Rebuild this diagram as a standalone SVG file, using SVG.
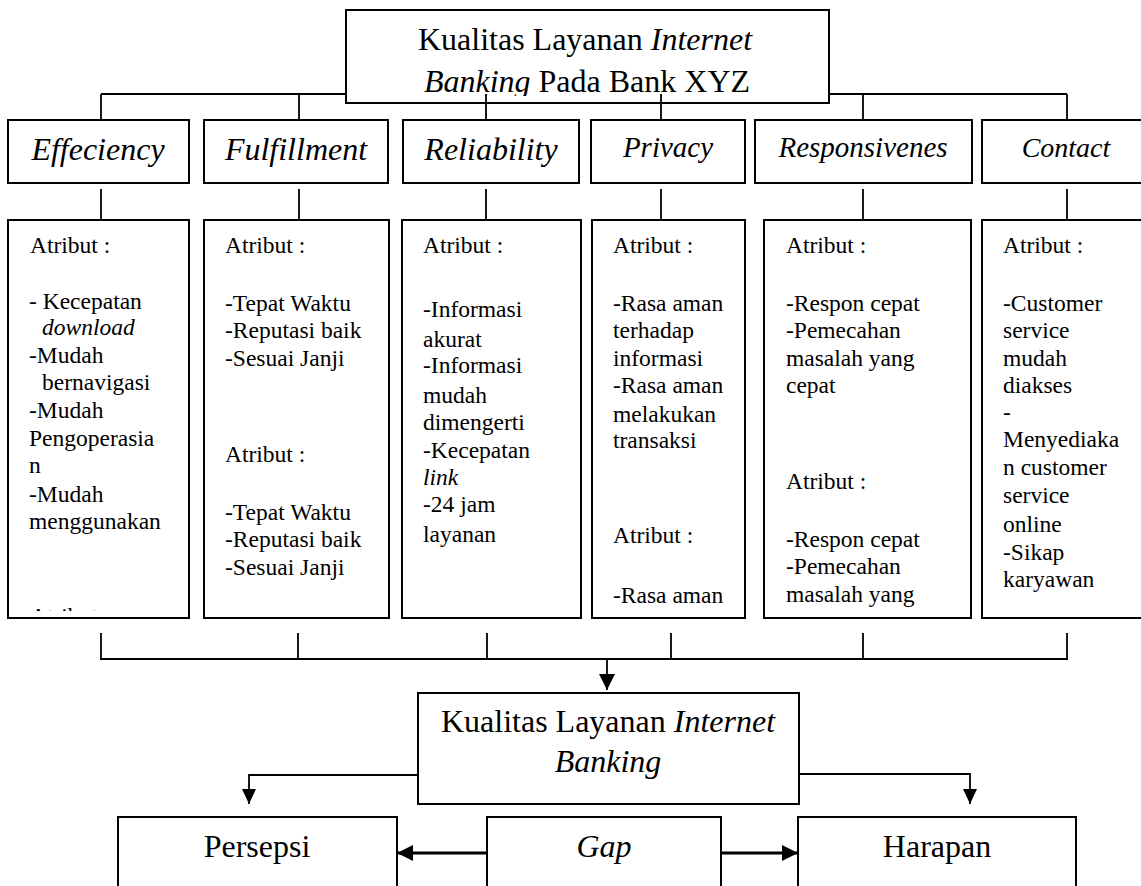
<svg xmlns="http://www.w3.org/2000/svg" width="1141" height="886" viewBox="0 0 1141 886">
<style>
  .box { fill: #fff; stroke: #000; stroke-width: 2; }
  .ln { fill: none; stroke: #000; stroke-width: 1.8; }
  .thick { fill: none; stroke: #000; stroke-width: 3; }
  text { font-family: "Liberation Serif", "Times New Roman", serif; fill: #000; }
  .big { font-size: 32px; }
  .cat { font-size: 32px; font-style: italic; text-anchor: middle; }
  .cat2 { font-size: 29px; font-style: italic; text-anchor: middle; }
  .att { font-size: 23.5px; }
  .it { font-style: italic; }
  .mid { text-anchor: middle; }
</style>
<defs>
  <marker id="arr" markerUnits="userSpaceOnUse" markerWidth="16" markerHeight="16" refX="15" refY="7" orient="auto">
    <path d="M0,0 L15,7 L0,14 z" fill="#000"/>
  </marker>
  <marker id="arrB" markerUnits="userSpaceOnUse" markerWidth="18" markerHeight="18" refX="16" refY="8" orient="auto">
    <path d="M0,0 L16,8 L0,16 z" fill="#000"/>
  </marker>
  <clipPath id="clipTop"><rect x="346" y="10" width="484" height="86"/></clipPath>
  <clipPath id="clipA1"><rect x="8" y="220" width="181" height="391"/></clipPath>
</defs>

<g id="connectors">
  <line class="ln" x1="101" y1="94" x2="1067" y2="94"/>
  <line class="ln" x1="101" y1="94" x2="101" y2="120"/>
  <line class="ln" x1="299" y1="94" x2="299" y2="120"/>
  <line class="ln" x1="863" y1="94" x2="863" y2="120"/>
  <line class="ln" x1="1067" y1="94" x2="1067" y2="120"/>
  <line class="ln" x1="101" y1="189" x2="101" y2="220"/>
  <line class="ln" x1="299" y1="189" x2="299" y2="220"/>
  <line class="ln" x1="486" y1="189" x2="486" y2="220"/>
  <line class="ln" x1="661" y1="189" x2="661" y2="220"/>
  <line class="ln" x1="863" y1="189" x2="863" y2="220"/>
  <line class="ln" x1="1067" y1="189" x2="1067" y2="220"/>
  <line class="ln" x1="101" y1="633" x2="101" y2="659"/>
  <line class="ln" x1="298" y1="633" x2="298" y2="659"/>
  <line class="ln" x1="487" y1="633" x2="487" y2="659"/>
  <line class="ln" x1="671" y1="633" x2="671" y2="659"/>
  <line class="ln" x1="863" y1="633" x2="863" y2="659"/>
  <line class="ln" x1="1067" y1="633" x2="1067" y2="659"/>
  <line class="ln" x1="100" y1="659" x2="1068" y2="659"/>
  <path class="ln" d="M607,659 L607,690" marker-end="url(#arrB)"/>
  <path class="ln" d="M418,775 L249,775 L249,804" marker-end="url(#arr)"/>
  <path class="ln" d="M799,774 L970,774 L970,804" marker-end="url(#arr)"/>
  <path class="thick" d="M487,853 L397,853" marker-end="url(#arrB)"/>
  <path class="thick" d="M721,853 L798,853" marker-end="url(#arrB)"/>
</g>

<g id="top">
  <rect class="box" x="346" y="10" width="483" height="93"/>
  <g clip-path="url(#clipTop)">
    <text class="big mid" x="585" y="50">Kualitas Layanan <tspan class="it">Internet</tspan></text>
    <text class="big mid" x="587" y="92"><tspan class="it">Banking</tspan> Pada Bank XYZ</text>
  </g>
  <line class="ln" x1="486" y1="94" x2="486" y2="120"/>
  <line class="ln" x1="661" y1="94" x2="661" y2="120"/>
</g>

<g id="cat-effeciency">
  <rect class="box" x="8" y="120" width="181" height="63"/>
  <text class="cat" x="98" y="160">Effeciency</text>
</g>
<g id="cat-fulfillment">
  <rect class="box" x="204" y="120" width="184" height="63"/>
  <text class="cat" x="296" y="160">Fulfillment</text>
</g>
<g id="cat-reliability">
  <rect class="box" x="403" y="120" width="176" height="63"/>
  <text class="cat" x="491" y="160">Reliability</text>
</g>
<g id="cat-privacy">
  <rect class="box" x="591" y="120" width="154" height="63"/>
  <text class="cat2" x="668" y="157">Privacy</text>
</g>
<g id="cat-responsivenes">
  <rect class="box" x="755" y="120" width="217" height="63"/>
  <text class="cat2" x="863" y="157">Responsivenes</text>
</g>
<g id="cat-contact">
  <rect class="box" x="982" y="120" width="170" height="63"/>
  <text class="cat2" x="1066" y="157" style="font-size:28px">Contact</text>
</g>

<g id="attr-1">
  <rect class="box" x="8" y="220" width="181" height="398"/>
  <g class="att">
    <text x="30" y="253">Atribut :</text>
    <text x="29" y="309">- Kecepatan</text>
    <text x="42" y="335" class="it">download</text>
    <text x="29" y="363">-Mudah</text>
    <text x="42" y="390">bernavigasi</text>
    <text x="29" y="418">-Mudah</text>
    <text x="29" y="446">Pengoperasia</text>
    <text x="29" y="473">n</text>
    <text x="29" y="502">-Mudah</text>
    <text x="29" y="529">menggunakan</text>
    <text x="30" y="624" clip-path="url(#clipA1)">Atribut :</text>
  </g>
</g>

<g id="attr-2">
  <rect class="box" x="204" y="220" width="185" height="398"/>
  <g class="att">
    <text x="225" y="253">Atribut :</text>
    <text x="225" y="311">-Tepat Waktu</text>
    <text x="225" y="338">-Reputasi baik</text>
    <text x="225" y="366">-Sesuai Janji</text>
    <text x="225" y="462">Atribut :</text>
    <text x="225" y="520">-Tepat Waktu</text>
    <text x="225" y="547">-Reputasi baik</text>
    <text x="225" y="575">-Sesuai Janji</text>
  </g>
</g>

<g id="attr-3">
  <rect class="box" x="402" y="220" width="179" height="398"/>
  <g class="att">
    <text x="423" y="253">Atribut :</text>
    <text x="423" y="317">-Informasi</text>
    <text x="423" y="347">akurat</text>
    <text x="423" y="373">-Informasi</text>
    <text x="423" y="403">mudah</text>
    <text x="423" y="430">dimengerti</text>
    <text x="423" y="458">-Kecepatan</text>
    <text x="423" y="485" class="it">link</text>
    <text x="423" y="512">-24 jam</text>
    <text x="423" y="542">layanan</text>
  </g>
</g>

<g id="attr-4">
  <rect class="box" x="592" y="220" width="153" height="398"/>
  <g class="att">
    <text x="613" y="253">Atribut :</text>
    <text x="613" y="311">-Rasa aman</text>
    <text x="613" y="338">terhadap</text>
    <text x="613" y="366">informasi</text>
    <text x="613" y="393">-Rasa aman</text>
    <text x="613" y="422">melakukan</text>
    <text x="613" y="448">transaksi</text>
    <text x="613" y="543">Atribut :</text>
    <text x="613" y="603">-Rasa aman</text>
  </g>
</g>

<g id="attr-5">
  <rect class="box" x="764" y="220" width="207" height="398"/>
  <g class="att">
    <text x="786" y="253">Atribut :</text>
    <text x="786" y="311">-Respon cepat</text>
    <text x="786" y="338">-Pemecahan</text>
    <text x="786" y="366">masalah yang</text>
    <text x="786" y="393">cepat</text>
    <text x="786" y="489">Atribut :</text>
    <text x="786" y="547">-Respon cepat</text>
    <text x="786" y="574">-Pemecahan</text>
    <text x="786" y="602">masalah yang</text>
  </g>
</g>

<g id="attr-6">
  <rect class="box" x="982" y="220" width="170" height="398"/>
  <g class="att">
    <text x="1003" y="253">Atribut :</text>
    <text x="1003" y="311">-Customer</text>
    <text x="1003" y="338">service</text>
    <text x="1003" y="366">mudah</text>
    <text x="1003" y="393">diakses</text>
    <text x="1003" y="420">-</text>
    <text x="1003" y="447">Menyediaka</text>
    <text x="1003" y="475">n customer</text>
    <text x="1003" y="503">service</text>
    <text x="1003" y="532">online</text>
    <text x="1003" y="560">-Sikap</text>
    <text x="1003" y="587">karyawan</text>
  </g>
</g>

<g id="kualitas">
  <rect class="box" x="418" y="693" width="381" height="111"/>
  <text class="big mid" x="608" y="732">Kualitas Layanan <tspan class="it">Internet</tspan></text>
  <text class="big mid it" x="608" y="772">Banking</text>
</g>

<g id="persepsi">
  <rect class="box" x="118" y="817" width="279" height="90"/>
  <text class="big mid" x="257" y="857">Persepsi</text>
</g>
<g id="gap">
  <rect class="box" x="487" y="817" width="234" height="90"/>
  <text class="big mid it" x="604" y="857">Gap</text>
</g>
<g id="harapan">
  <rect class="box" x="798" y="817" width="278" height="90"/>
  <text class="big mid" x="937" y="857">Harapan</text>
</g>
</svg>
